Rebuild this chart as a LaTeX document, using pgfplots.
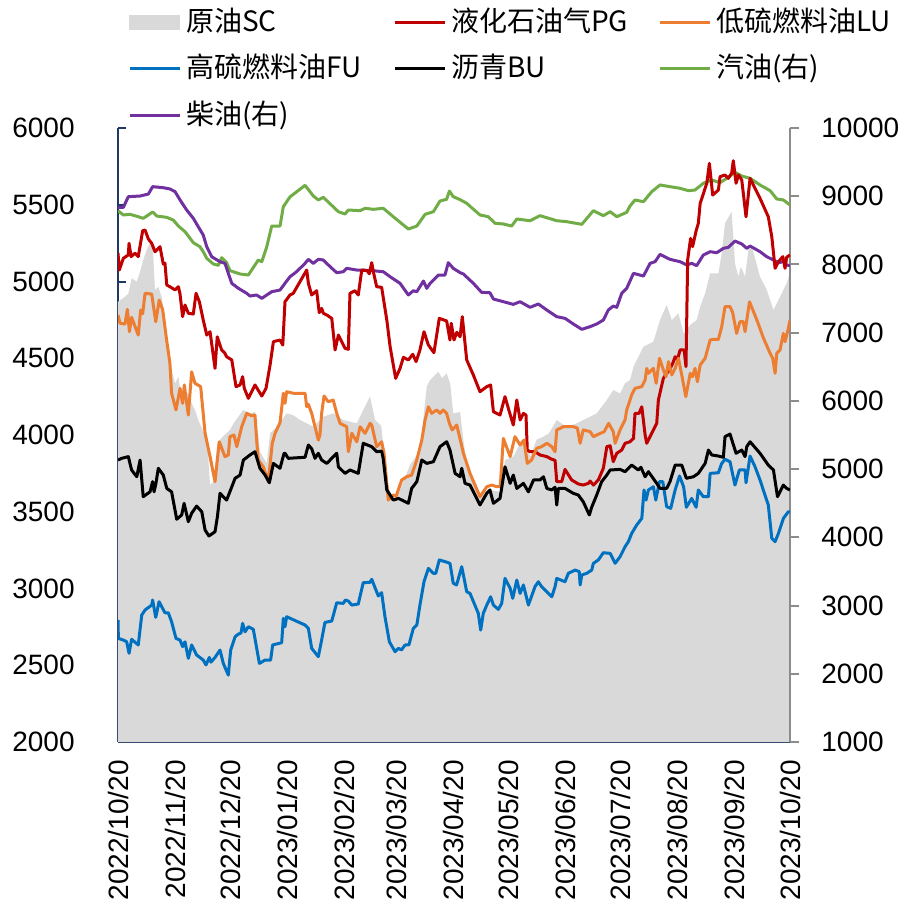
\documentclass[border=0pt]{standalone}
\usepackage{pgfplots}
\pgfplotsset{compat=1.18}
\usepackage{fontspec}
\setmainfont{Liberation Sans}
\newfontfamily\cjk{Noto Sans CJK SC}
\definecolor{navyax}{HTML}{203864}
\definecolor{grayax}{HTML}{8C8C8C}
\definecolor{scgray}{HTML}{D9D9D9}
\definecolor{pgred}{HTML}{C00000}
\definecolor{luorange}{HTML}{ED7D31}
\definecolor{fublue}{HTML}{0070C0}
\definecolor{gasgreen}{HTML}{70AD47}
\definecolor{diepurple}{HTML}{7030A0}
\pgfplotsset{
  common/.style={
    at={(0,0)}, anchor=south west, width=336pt, height=307pt, scale only axis,
    xmin=0, xmax=365, clip=true,
    scaled y ticks=false, scaled x ticks=false,
    /pgf/number format/assume math mode=true,
    /pgf/number format/1000 sep={},
    tick label style={font=\fontsize{14}{16}\selectfont},
  },
  ln/.style={line width=1.5pt, line join=round},
}
\begin{document}
\begin{tikzpicture}
% ---------- left axis with crude oil area ----------
\begin{axis}[common,
  ymin=2000, ymax=6000, ytick={2000,2500,...,6000},
  axis x line*=bottom, axis y line*=left,
  axis line style={navyax, line width=1pt},
  major tick style={navyax, line width=1pt},
  tick align=inside, major tick length=4pt,
  xtick={0,31,61,92,123,151,182,212,243,273,304,335,365},
  xticklabels={2022/10/20,2022/11/20,2022/12/20,2023/01/20,2023/02/20,2023/03/20,2023/04/20,2023/05/20,2023/06/20,2023/07/20,2023/08/20,2023/09/20,2023/10/20},
  xticklabel style={rotate=90, anchor=east, inner sep=0pt},
  xticklabel shift=9pt,
  yticklabel style={inner sep=0pt},
  yticklabel shift=21.5pt,
]
\addplot[fill=scgray, draw=none] table {
x y
0 4868
3.8 4901
5.6 4920
7.4 5021
10.2 4999
12 5064
13.7 5140
15.6 5205
17 5244
18.8 5244
20.1 4945
21.9 4966
23.7 4901
25.5 4760
27.3 4521
29.1 4423
31 4337
32.8 4380
34.6 4239
36.4 4261
38.2 4270
40 4206
41.8 4163
43.6 4098
46.3 4022
48.2 4011
50 3674
52 3700
54 3950
57 3990
60.8 4033
63 4080
68 4163
71.7 4141
74.4 4150
76.2 4000
77.1 3891
80.8 3815
82.6 4011
86.2 4054
88 4080
91.6 4141
95 4130
98.9 4098
106.1 4054
111.5 4119
116.9 4141
122.4 4098
129.7 4076
133.2 4163
136.9 4250
139.6 4098
143 4060
146 3707
149.5 3555
153.2 3642
158.6 3804
164 3902
167.7 4315
169.5 4358
174 4412
176 4370
178.5 4402
180.5 4330
182.1 4141
185.8 4150
187.6 3967
189.4 3815
196.6 3620
202 3642
207.5 3630
210.2 3837
214.7 3859
219.3 3967
221.9 3946
223.8 3859
227.4 3970
231.1 3989
234 4010
238.3 4098
243.7 4050
249.1 4076
256.4 4119
260 4141
265.5 4228
269 4293
272.7 4270
275.4 4337
278.1 4358
280 4445
285.4 4575
290.8 4608
294.4 4749
298 4847
300.8 4749
304.4 4793
307.2 4662
310.8 4717
314.3 4749
316.2 4836
318.9 4923
321.6 5053
326.1 5053
327.9 5184
329.7 5379
333.3 5455
335.1 5118
337 5031
338.3 5097
340.6 5031
342.4 5205
344.3 5227
348.7 5031
352.4 4945
356 4814
358.7 4879
361.4 4945
363.2 4988
365 5053
} \closedcycle;
\end{axis}
% ---------- right axis: gasoline, diesel ----------
\begin{axis}[common,
  ymin=1000, ymax=10000, ytick={1000,2000,...,10000},
  axis x line=none, axis y line*=right,
  axis line style={grayax, line width=1pt},
  major tick style={grayax, line width=1pt},
  tick align=outside, major tick length=4.5pt,
  yticklabel style={inner sep=0pt},
  yticklabel shift=11pt,
]
\addplot[ln, gasgreen] table {
x y
0 8788
2.9 8725
6.5 8735
11 8700
13.7 8676
15.6 8710
18.8 8769
21 8710
26.5 8690
30 8651
32.8 8563
36.4 8480
40.9 8319
44.5 8260
46.3 8187
48.2 8090
51.8 8006
54.5 7987
56.3 8099
59 8026
60.8 7909
66.3 7860
70.8 7845
74.4 7992
76.2 8065
78.1 8040
80.8 8260
83.5 8563
88 8563
89.8 8847
93.4 8990
101.6 9160
106.1 9003
108.8 8945
111.5 8984
119.7 8773
123.3 8739
125.1 8798
131.5 8788
134.2 8823
138.7 8808
144.1 8823
149.5 8700
157.7 8519
162.3 8563
166.8 8735
171.3 8773
174.9 8930
178.5 8955
180 9076
182.1 8993
185.8 8950
189.4 8896
196.6 8725
201.1 8700
204.8 8603
209.3 8593
213.8 8563
216.6 8666
223.8 8641
229.2 8715
238.3 8641
243.7 8627
251.9 8588
258.2 8788
263.6 8715
267.3 8773
270.9 8700
276.3 8764
278.1 8857
280.8 8945
285.4 8920
289.9 9067
294.4 9165
299.8 9140
305.3 9116
309.8 9081
313.4 9091
317.9 9189
322.5 9238
327 9199
330.6 9262
335.1 9350
338.8 9296
343.3 9262
348.7 9165
354.2 9081
357.8 8960
361.4 8945
365 8871
};
\addplot[ln, diepurple] table {
x y
0 8837
2.9 8837
5.6 8993
12 9003
16.5 9032
18.8 9140
24.6 9125
28.2 9106
31 9067
33.7 8945
37.3 8798
40.9 8676
43.6 8553
46.3 8431
48.2 8260
50.9 8113
55.4 8040
58.1 8016
59.9 7870
61.8 7723
65.4 7650
69.9 7577
71.7 7537
75.3 7552
78.1 7503
80.8 7552
83.5 7600
88 7625
90.7 7723
93.4 7820
97 7893
101.6 8016
103.4 8075
106.1 8016
108.8 8075
111.5 8065
115.2 7967
118.8 7879
122.4 7893
124.2 7943
129.7 7918
136.9 7913
144.1 7893
147.8 7820
153.2 7723
157.7 7552
160.4 7615
162.3 7600
165.9 7757
167.7 7650
169.5 7723
174 7845
177.6 7845
179.4 8026
182.1 7943
185.8 7880
187.6 7860
193 7723
197.5 7591
202 7586
203.9 7493
209.3 7454
214.7 7415
218.4 7454
223.8 7371
228.3 7420
232.9 7332
238.3 7234
242.8 7210
247.3 7127
251.9 7049
256.4 7088
260 7127
263.6 7185
266.3 7332
269 7390
270.9 7371
273.6 7577
276.3 7650
280 7870
285.4 7830
289 8016
291.7 8040
294.4 8148
299.8 8075
305.3 8040
308.9 7992
311.6 8016
314.3 7982
317.9 8138
321.6 8187
325.2 8172
328.8 8236
331.5 8251
335.1 8343
338.8 8300
341.5 8236
343.3 8270
348.7 8187
352.4 8113
356 8065
358.7 8026
361.4 8040
363.2 7992
365 7982
};
\end{axis}
% ---------- left scale lines + legend ----------
\begin{axis}[common,
  ymin=2000, ymax=6000, hide axis,
  legend columns=3, legend cell align=left,
  legend image code/.code={\draw[#1, line width=1.5pt] (0pt,0pt) -- (25pt,0pt);},
  legend style={at={(0.0149,1.2052)}, anchor=north west, draw=none, fill=none,
    inner sep=0pt, outer sep=0pt, column sep=0pt, row sep=3.25pt,
    font=\cjk\fontsize{14}{16}\selectfont,
    nodes={inner sep=2.5pt, text height=12pt, text depth=3pt}},
]
\addlegendimage{legend image code/.code={\fill[scgray] (0pt,-3.5pt) rectangle (25pt,3.5pt);}}
\addlegendentry{\makebox[101pt][l]{原油SC}}
\addplot[ln, pgred] table {
x y
0 5184
0.7 5075
2.9 5151
5.6 5173
6 5249
7.1 5162
9.2 5184
11 5162
13.4 5331
14.7 5335
16.5 5277
18.3 5249
20.1 5194
21.9 5216
22.8 5227
24.6 5114
25.5 5120
26.5 4977
28.2 4966
31 4945
32.8 4966
33.7 4918
35.1 4771
36.4 4847
38.2 4793
40.9 4788
42.4 4923
44.2 4868
46.3 4749
48.2 4651
50 4673
52.7 4434
53.9 4640
56.3 4554
58.1 4532
59 4510
61.8 4489
64.1 4315
66.3 4326
67.7 4380
68.6 4304
70.8 4239
74.4 4326
78.1 4254
80.4 4304
82.6 4456
84.4 4608
88 4619
89.5 4586
90.7 4868
93.4 4912
95.2 4923
102.5 5075
103.4 4988
105.2 4912
107.9 4940
109.3 4797
110.6 4825
111.5 4793
113.4 4782
116.1 4760
117.9 4554
119.7 4651
123.3 4565
125.1 4558
126 4923
128.7 4940
130.5 4912
132.4 5075
135.4 5070
136.5 5050
137.8 5123
138.7 5064
140.5 4966
143.2 4962
146 4749
147.8 4575
150.8 4369
153.2 4434
155 4506
157.7 4489
160.1 4526
161.9 4478
164 4554
166.2 4673
168.6 4586
171.6 4536
174.5 4760
178.5 4743
180.3 4619
181 4728
182.5 4619
184 4669
185.8 4640
187 4771
189.4 4489
193 4391
196.6 4282
200.3 4315
202.4 4326
203.9 4152
207.5 4130
210.2 4250
212 4174
214.7 4065
216.6 4228
218.4 4098
220.2 4141
221.6 4130
222.3 3902
223.8 3891
226.5 3891
229.2 3870
232.9 3859
235.6 3842
237.4 3835
238.3 3696
241 3696
242.8 3776
246.4 3707
250 3681
252.7 3674
255.5 3685
256.4 3700
258.2 3674
260.9 3707
263.6 3783
265.5 3924
267.3 3930
269 3826
270.9 3881
273.6 3902
275.4 3946
278.1 3956
280 3978
280.8 4141
283 4141
284.5 4184
286.3 4000
287.2 3946
292.6 4076
293.5 4228
296.2 4369
298 4402
299.4 4420
301.3 4467
302.6 4510
303.8 4490
305.3 4554
307.5 4554
308.5 4445
309.4 5140
311 5281
312.1 5227
314 5330
315.2 5379
316.2 5509
319.8 5640
321.2 5770
323 5563
326.1 5596
327 5683
329.7 5694
331.5 5672
333.3 5705
334.2 5787
335.7 5640
337 5694
338.8 5661
341.1 5422
343.3 5672
348.7 5542
353.2 5422
355.1 5292
356.9 5086
358.7 5129
361.1 5162
362.3 5086
363.2 5158
365 5173
};
\addlegendentry{\makebox[101pt][l]{液化石油气PG}}
\addplot[ln, luorange] table {
x y
0 4782
1.1 4728
3.8 4723
5.1 4819
6.2 4673
7.4 4767
11 4651
12.3 4814
13.4 4790
14.7 4923
18.3 4918
20.5 4738
22.4 4879
24.3 4814
26.4 4619
28.2 4467
29.1 4272
31.5 4163
33.7 4304
35.1 4206
36 4326
38.2 4130
40 4412
41.8 4337
44.9 4315
47.3 4011
50 3859
52.7 3696
55 3956
58.1 3859
59.9 3870
60.8 3989
63 4000
64.5 3924
67.2 4054
69.9 4141
72.6 4125
74.4 4130
75.3 3967
76.2 3837
78.9 3793
81.6 3696
83.8 3946
85.3 4011
88 4080
89.8 4272
90.7 4206
91.6 4282
95.2 4272
101.6 4272
102.5 4184
103.4 4200
105.2 4141
107 4054
108.8 3967
109.7 4000
110.6 4141
111.9 4254
114.2 4217
116.9 4228
118.8 4141
120.6 4076
124.2 4054
125.1 3891
127 4011
129.7 3956
131.5 4054
134.2 4011
136.9 4076
137.8 4065
140.5 3924
143.2 3956
144.5 3880
146.8 3576
149.5 3609
151 3600
154.1 3707
156.8 3728
159.5 3739
162.3 3837
165 3967
166.8 4098
168.6 4184
170.4 4141
173.1 4163
174.9 4141
176.7 4163
178.5 4141
180 4076
181.5 4033
184 4065
187.6 3881
191.2 3750
196.6 3598
200.3 3663
203 3674
205.7 3663
207.6 3663
209.3 3978
213 3859
215.6 3989
218.4 3935
220.5 3967
222.3 3815
224.6 3837
227.4 3913
230.1 3924
232.9 3946
235.6 3924
237.4 3891
238.3 4033
241.9 4054
247.3 4054
249.5 4045
251 3946
252.7 4033
256.4 4022
258.2 3989
260 4000
264.1 4022
266.5 4076
269 4022
270 3946
272.7 4033
275.4 4098
276.3 4163
279 4261
280.8 4304
284.5 4315
286.3 4358
287.2 4434
288.1 4402
290.8 4434
292.3 4337
294.1 4500
296.2 4424
297.7 4380
299 4478
300.8 4391
302.6 4434
304.4 4500
306.2 4391
308.4 4250
310.8 4402
312 4380
313.4 4434
314.7 4347
316.2 4456
318.9 4500
321.6 4619
323.4 4623
326.1 4623
327.9 4706
329.7 4836
332.4 4836
333.8 4800
336 4662
337.8 4738
339.6 4738
340.6 4673
343 4868
347 4749
350.6 4630
354.2 4532
355.6 4500
356.9 4402
357.8 4532
359.6 4554
361.4 4662
362.3 4608
364.1 4695
365 4749
};
\addlegendentry{\makebox[101pt][l]{低硫燃料油LU}}
\addplot[ln, fublue] table {
x y
0 2795
0.2 2675
2.9 2664
4.7 2653
6 2578
7.4 2669
11 2632
12.9 2827
14.7 2860
18.3 2892
18.8 2925
20.5 2812
22.3 2914
25.5 2842
27.3 2842
29.1 2784
31.5 2675
33.7 2664
35.1 2621
36.4 2653
38.2 2545
40 2632
42.7 2567
46.3 2534
47.8 2502
49.6 2551
50.5 2520
52.7 2551
55.4 2599
57.2 2512
59.9 2436
61.2 2599
63.6 2686
65.4 2703
66.8 2710
67.7 2773
69 2718
70.8 2751
73.5 2734
76.8 2512
79.9 2534
82.9 2534
84 2632
88.9 2647
89.8 2806
90.7 2751
91.6 2816
101.6 2762
103.4 2740
105.2 2610
108.8 2556
110.6 2664
112.4 2779
116.1 2788
118.8 2907
122.4 2903
123.5 2925
125.1 2918
127 2892
130.5 2899
133.2 3038
136.9 3040
137.8 3060
141.4 2951
143.2 2973
145 2816
147.4 2653
150.5 2588
152.3 2610
154 2600
155.9 2632
158 2632
160.4 2740
162.3 2762
164 2892
166.2 3044
168.6 3131
171.3 3099
172.6 3099
174.5 3186
177.6 3175
180.3 3164
182.1 3034
183.9 3023
186.7 3142
189.4 2979
191.2 2968
195.7 2838
197 2729
198.4 2838
200.3 2892
202.4 2946
203.9 2892
206.6 2864
208.4 2903
210.2 3066
213 3001
214.4 2936
216.6 3055
218.4 2968
220.2 3023
222.9 2892
226.5 3012
228.3 3044
230.1 3012
232.9 2979
235.6 2946
237.4 3012
238.3 3066
242.8 3044
244.6 3099
248.3 3120
250.5 3110
251 3023
251.9 3088
254.6 3099
257.3 3120
258.2 3164
260.9 3186
263.6 3233
267.3 3229
270 3164
272.7 3207
275.4 3272
277.2 3305
279 3359
281.7 3413
284.5 3457
285.7 3642
286.8 3576
288.1 3642
290.8 3663
292.1 3576
294.1 3696
295.9 3696
298 3533
300.2 3522
302.6 3642
305 3733
307.2 3663
308.7 3529
311.6 3587
314 3529
315.2 3642
317.9 3598
320.7 3598
321.6 3750
326.1 3754
327.9 3815
329.7 3842
332.4 3826
335.1 3674
337.5 3772
340.6 3772
341.1 3689
343.3 3863
346 3793
348.7 3707
353.2 3544
355.1 3327
356.9 3305
358.7 3359
361.4 3457
364.1 3500
365 3500
};
\addlegendentry{\makebox[101pt][l]{高硫燃料油FU}}
\addplot[ln, black] table {
x y
0 3837
2 3848
5.6 3859
7.4 3772
10.2 3728
12 3837
13.7 3598
17.4 3630
18.8 3696
19.6 3630
20.6 3685
21.9 3783
24.6 3739
26.5 3652
29.1 3630
31.9 3451
34.6 3479
35.9 3555
38.2 3435
40 3490
42.7 3537
45.5 3500
47.3 3381
49.4 3342
52.7 3370
54 3468
55.4 3620
59 3576
63.6 3718
66.3 3739
68.1 3837
71.7 3870
74.4 3891
77.1 3783
79.9 3739
82.2 3689
84.4 3815
88 3783
90.2 3881
90.7 3881
92.5 3848
101.6 3855
103.4 3935
105.2 3910
107 3848
108.8 3881
110.6 3837
113.4 3815
118.8 3881
119.7 3793
123.3 3750
126 3772
130.5 3750
133.2 3946
137.8 3924
140.5 3891
143.2 3895
144 3850
146 3642
147.8 3609
149.5 3576
152.3 3587
157.7 3555
159.5 3652
162.3 3696
165 3837
167.7 3815
171.3 3826
174.9 3924
178.5 3956
180.3 3902
183.1 3750
185.8 3728
186.7 3783
188.5 3685
191.2 3674
196.6 3544
200.3 3620
202 3642
203.9 3555
207.5 3587
210.2 3793
213 3685
214.7 3739
216.6 3652
220.2 3685
222.9 3630
225.7 3707
229.2 3707
231.1 3728
232.9 3652
235.6 3642
237.4 3660
238.3 3544
239.2 3652
242.8 3652
247.3 3620
250 3609
252.7 3565
256 3479
257.3 3530
260 3609
262.7 3696
265.5 3739
267.3 3772
272.7 3776
275.4 3761
279 3804
282.6 3772
284 3790
286.3 3728
288.1 3761
292.6 3685
294.4 3652
298 3652
299.8 3696
302.6 3804
306.2 3804
308.7 3718
312.5 3728
315.2 3750
318.9 3815
320.7 3902
322.5 3870
326.1 3863
328.8 3855
329.7 3989
332.4 4006
335.7 3881
338.8 3902
340.6 3859
341.5 3924
343.3 3956
348.7 3881
353.2 3804
356 3772
358.2 3598
361.4 3674
363.2 3652
365 3642
};
\addlegendentry{\makebox[101pt][l]{沥青BU}}
\addlegendimage{ln, gasgreen}
\addlegendentry{\makebox[101pt][l]{汽油(右)}}
\addlegendimage{ln, diepurple}
\addlegendentry{\makebox[101pt][l]{柴油(右)}}
\end{axis}
\pgfresetboundingbox
\path[use as bounding box] (-59pt,-84.5pt) rectangle (391.5pt,371pt);
\end{tikzpicture}
\end{document}
